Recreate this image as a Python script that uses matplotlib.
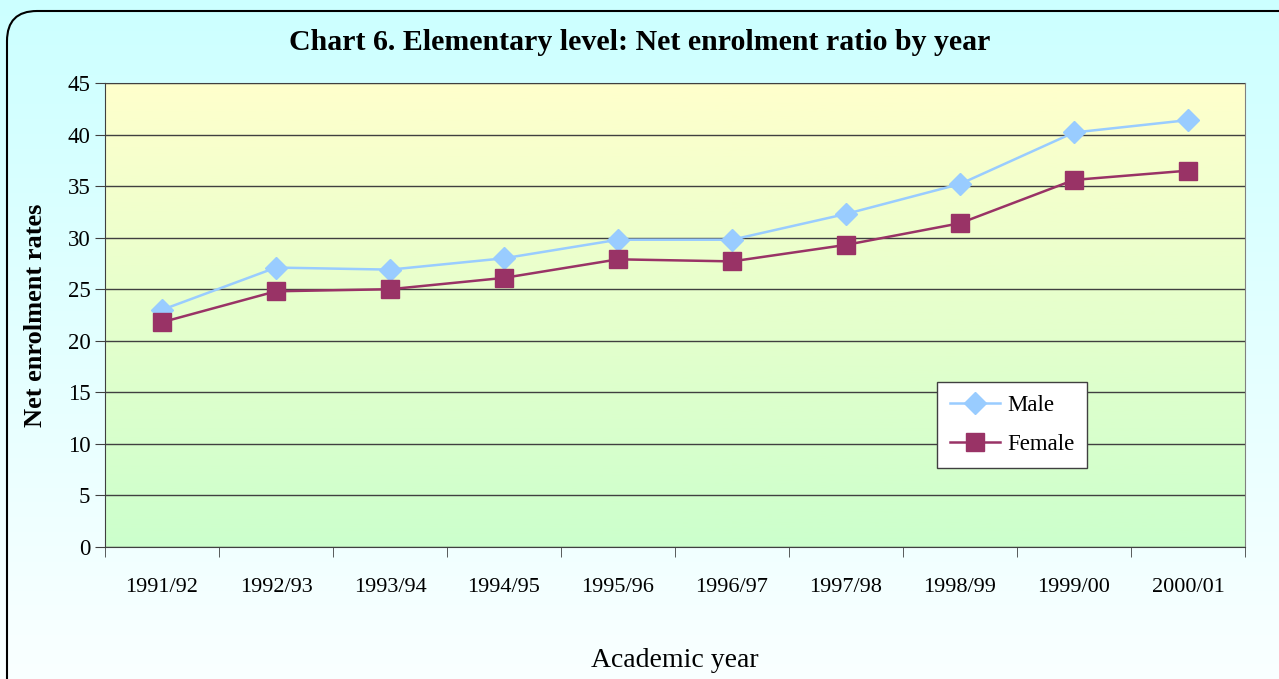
# Chart 6: elementary level net enrolment ratio by year

import numpy as np
import matplotlib.pyplot as plt
from matplotlib.patches import FancyBboxPatch

years = ["1991/92", "1992/93", "1993/94", "1994/95", "1995/96",
         "1996/97", "1997/98", "1998/99", "1999/00", "2000/01"]
male = [23.0, 27.1, 26.9, 28.0, 29.8, 29.8, 32.3, 35.2, 40.2, 41.4]
female = [21.8, 24.8, 25.0, 26.1, 27.9, 27.7, 29.3, 31.4, 35.6, 36.5]

plt.rcParams['font.family'] = ['Liberation Serif', 'DejaVu Serif']

fig = plt.figure(figsize=(12.79, 6.79), dpi=100)

# figure background: cyan at top fading to white
bg = fig.add_axes([0, 0, 1, 1], zorder=-10)
grad = np.linspace(0, 1, 256).reshape(-1, 1)
top = np.array([0.80, 1.0, 1.0])
bot = np.array([0.98, 1.0, 1.0])
img = top + (bot - top) * grad[:, :, None]
bg.imshow(img, aspect='auto', extent=[0, 1, 0, 1])
bg.set_xlim(0, 1)
bg.set_ylim(0, 1)
bg.axis('off')
# rounded border running off the right and bottom edges
box = FancyBboxPatch((0.07, -1.0), 15, 6.79 - 0.11 + 1.0,
                     boxstyle="round,pad=0,rounding_size=0.3",
                     transform=fig.dpi_scale_trans, fill=False,
                     edgecolor='black', linewidth=1.5)
bg.add_patch(box)

ax = fig.add_axes([105 / 1279, 1 - 547 / 679, 1140 / 1279, 464 / 679])
x = np.arange(len(years))

# plot area: yellow fading to green
pgrad = np.linspace(0, 1, 256).reshape(-1, 1)
ptop = np.array([1.0, 1.0, 0.80])
pbot = np.array([0.80, 1.0, 0.80])
pimg = ptop + (pbot - ptop) * pgrad[:, :, None]
ax.imshow(pimg, aspect='auto', extent=[-0.5, len(years) - 0.5, 0, 45],
          zorder=0)

ax.plot(x, male, color='#99ccff', linewidth=1.8, marker='D', markersize=11,
        markeredgecolor='#99ccff', label='Male', zorder=3)
ax.plot(x, female, color='#993366', linewidth=1.8, marker='s', markersize=13,
        markeredgecolor='#993366', label='Female', zorder=3)

ax.set_xlim(-0.5, len(years) - 0.5)
ax.set_ylim(0, 45)
ax.set_yticks(range(0, 46, 5))
ax.set_xticks(x)
ax.set_xticklabels(years)
ax.set_xticks(np.arange(-0.5, len(years), 1), minor=True)
ax.tick_params(axis='x', which='major', length=0, pad=22, labelsize=16)
ax.tick_params(axis='x', which='minor', length=7, color='#404040')
ax.tick_params(axis='y', length=7, labelsize=16.5, color='#404040')
ax.grid(axis='y', color='#404040', linewidth=1)
ax.set_axisbelow(False)
for s in ['top', 'right']:
    ax.spines[s].set_color('#808080')
for s in ['left', 'bottom']:
    ax.spines[s].set_color('#404040')

ax.set_ylabel("Net enrolment rates", fontsize=19, fontweight='bold', labelpad=15)
ax.set_xlabel("Academic year", fontsize=20, labelpad=37)
fig.text(0.5, 1 - 42 / 679, "Chart 6. Elementary level: Net enrolment ratio by year",
         ha='center', va='center', fontsize=21.5, fontweight='bold')

leg = ax.legend(loc='upper left', bbox_to_anchor=(832 / 1140, 1 - 299 / 464),
                borderaxespad=0, fontsize=16.5, fancybox=False, framealpha=1,
                edgecolor='#404040', handlelength=2.2, handletextpad=0.3,
                borderpad=0.55, labelspacing=0.8)
leg.get_frame().set_linewidth(1)

plt.savefig("out.png", dpi=100)
